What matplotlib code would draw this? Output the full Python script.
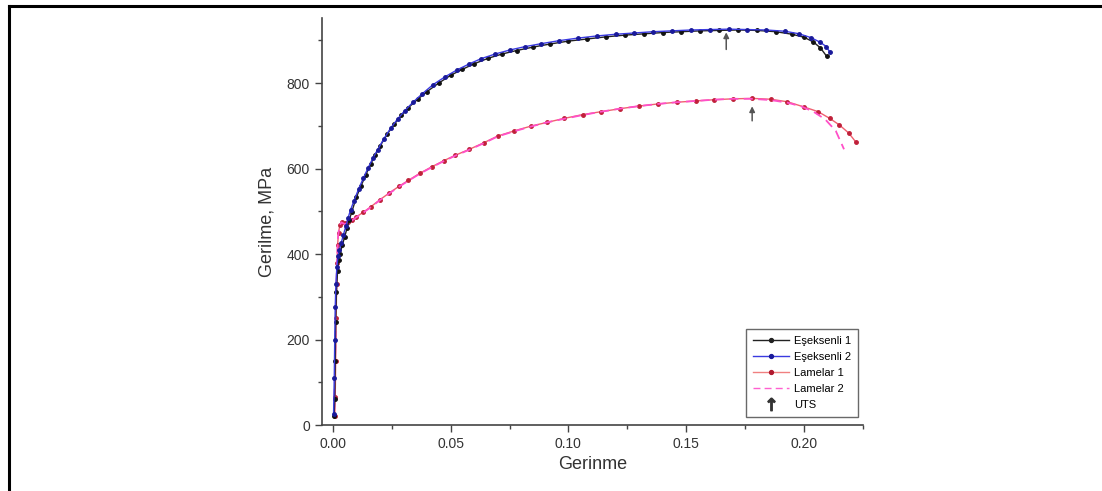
import matplotlib
matplotlib.use("Agg")
import matplotlib.pyplot as plt
from matplotlib.lines import Line2D
from matplotlib.ticker import MultipleLocator, FormatStrFormatter

plt.rcParams["font.family"] = ["Liberation Sans", "DejaVu Sans"]

# Eşeksenli 1 (black)
e1_strain = [0.0005, 0.0008, 0.001, 0.0012, 0.0015, 0.002, 0.0025, 0.003, 0.004, 0.005,
             0.006, 0.007, 0.008, 0.010, 0.012, 0.014, 0.016, 0.018, 0.020, 0.023,
             0.026, 0.029, 0.032, 0.036, 0.040, 0.045, 0.050, 0.055, 0.060, 0.066,
             0.072, 0.078, 0.085, 0.092, 0.100, 0.108, 0.116, 0.124, 0.132, 0.140,
             0.148, 0.156, 0.164, 0.172, 0.180, 0.188, 0.195, 0.200, 0.204, 0.207, 0.2097]
e1_stress = [20, 60, 150, 240, 310, 360, 385, 400, 420, 440,
             460, 480, 498, 533, 560, 585, 610, 632, 652, 680,
             703, 724, 742, 762, 780, 800, 818, 832, 845, 858,
             868, 876, 884, 891, 898, 903, 908, 912, 915, 918,
             920, 922, 923, 924, 923, 920, 914, 907, 896, 882, 862]

# Eşeksenli 2 (blue)
e2_strain = [0.0003, 0.0006, 0.0008, 0.001, 0.0013, 0.0017, 0.0022, 0.0028, 0.0035, 0.0045,
             0.0055, 0.0065, 0.0075, 0.009, 0.011, 0.013, 0.015, 0.017, 0.019, 0.0215,
             0.0245, 0.0275, 0.0305, 0.034, 0.038, 0.0425, 0.0475, 0.0525, 0.058, 0.063,
             0.069, 0.075, 0.0815, 0.0885, 0.096, 0.104, 0.112, 0.120, 0.128, 0.136,
             0.144, 0.152, 0.160, 0.168, 0.176, 0.184, 0.192, 0.198, 0.203, 0.207,
             0.2095, 0.211]
e2_stress = [25, 110, 200, 275, 330, 370, 395, 410, 425, 445,
             465, 485, 503, 525, 553, 578, 602, 624, 644, 668,
             694, 716, 735, 755, 775, 796, 814, 830, 845, 857,
             868, 877, 885, 892, 899, 905, 910, 914, 917, 920,
             922, 924, 925, 926, 925, 924, 921, 915, 906, 895,
             885, 872]

# Lamelar 1 (red)
l1_strain = [0.0008, 0.001, 0.0012, 0.0014, 0.0016, 0.0018, 0.002, 0.0024, 0.003, 0.0038,
             0.005, 0.0065, 0.008, 0.010, 0.013, 0.016, 0.020, 0.024, 0.028, 0.032,
             0.037, 0.042, 0.047, 0.052, 0.058, 0.064, 0.070, 0.077, 0.084, 0.091,
             0.098, 0.106, 0.114, 0.122, 0.130, 0.138, 0.146, 0.154, 0.162, 0.170,
             0.178, 0.186, 0.193, 0.200, 0.206, 0.211, 0.215, 0.219, 0.222]
l1_stress = [20, 65, 150, 250, 330, 380, 420, 450, 468, 476,
             472, 474, 480, 487, 498, 510, 527, 543, 558, 572,
             589, 604, 618, 631, 645, 660, 676, 688, 699, 708,
             717, 726, 733, 740, 746, 751, 755, 758, 761, 763,
             764, 762, 756, 744, 733, 717, 702, 683, 662]

# Lamelar 2 (magenta, dashed)
l2_strain = [0.0006, 0.0009, 0.0012, 0.0015, 0.0018, 0.0022, 0.0028, 0.0036, 0.005, 0.0065,
             0.008, 0.010, 0.013, 0.016, 0.020, 0.024, 0.028, 0.032, 0.037, 0.042,
             0.047, 0.052, 0.058, 0.064, 0.070, 0.077, 0.084, 0.091, 0.098, 0.106,
             0.114, 0.122, 0.130, 0.138, 0.146, 0.154, 0.162, 0.170, 0.178, 0.186,
             0.193, 0.199, 0.204, 0.209, 0.2135, 0.217]
l2_stress = [30, 120, 230, 320, 390, 440, 466, 474, 470, 472,
             478, 486, 497, 509, 526, 542, 557, 571, 588, 603,
             617, 630, 644, 659, 675, 687, 698, 708, 716, 725,
             733, 740, 746, 751, 755, 758, 761, 763, 763, 760,
             754, 745, 733, 715, 688, 645]

# UTS arrows: (strain, tail stress, tip stress)
uts_strain = [0.167, 0.178]
uts_tail = [872, 705]
uts_tip = [925, 752]

fig = plt.figure(figsize=(11.02, 4.91), dpi=100)
ax = fig.add_axes([0.292, 0.1344, 0.491, 0.8289])

ax.plot(l1_strain, l1_stress, color="#f06070", lw=1.0, marker="o", ms=2.5,
        mfc="#c0203a", mec="#c0203a", zorder=3)
ax.plot(l2_strain, l2_stress, color="#ff50c8", lw=1.3, ls=(0, (5, 3)), zorder=4)
ax.plot(e1_strain, e1_stress, color="#222222", lw=1.0, marker="o", ms=2.5,
        mfc="#111111", mec="#111111", zorder=4)
ax.plot(e2_strain, e2_stress, color="#3a3ae0", lw=1.0, marker="o", ms=2.5,
        mfc="#1a1a9a", mec="#1a1a9a", zorder=5)

for x, y0, y1 in zip(uts_strain, uts_tail, uts_tip):
    ax.annotate("", xy=(x, y1), xytext=(x, y0),
                arrowprops=dict(arrowstyle="-|>", color="#555555", lw=1.1,
                                mutation_scale=8))

ax.set_xlim(-0.0047, 0.225)
ax.set_ylim(0, 952)
ax.xaxis.set_major_locator(MultipleLocator(0.05))
ax.xaxis.set_minor_locator(MultipleLocator(0.025))
ax.xaxis.set_major_formatter(FormatStrFormatter("%.2f"))
ax.yaxis.set_major_locator(MultipleLocator(200))
ax.yaxis.set_minor_locator(MultipleLocator(100))

for s in ("top", "right"):
    ax.spines[s].set_visible(False)
for s in ("left", "bottom"):
    ax.spines[s].set_color("#444444")
    ax.spines[s].set_linewidth(1.2)
ax.tick_params(which="both", direction="out", color="#444444", width=1.0)
ax.tick_params(which="major", length=5, labelsize=10, labelcolor="#333333")
ax.tick_params(which="minor", length=3)

ax.set_xlabel("Gerinme", fontsize=13, color="#333333", labelpad=4)
ax.set_ylabel("Gerilme, MPa", fontsize=13, color="#333333", labelpad=8)

handles = [
    Line2D([], [], color="#222222", lw=1.0, marker="o", ms=2.8),
    Line2D([], [], color="#3a3ae0", lw=1.0, marker="o", ms=2.8, mfc="#1a1a9a", mec="#1a1a9a"),
    Line2D([], [], color="#f08080", lw=1.0, marker="o", ms=2.8, mfc="#b0182e", mec="#b0182e"),
    Line2D([], [], color="#ff5fd0", lw=1.0, ls=(0, (5, 3))),
    Line2D([], [], color="#333333", ls="none", marker=r"$\uparrow$", ms=9),
]
labels = ["Eşeksenli 1", "Eşeksenli 2", "Lamelar 1", "Lamelar 2", "UTS"]
leg = ax.legend(handles, labels, loc="lower right", bbox_to_anchor=(0.991, 0.02),
                borderaxespad=0, fontsize=8, fancybox=False, handlelength=3.2,
                labelspacing=0.55, borderpad=0.6, handletextpad=0.5)
leg.get_frame().set_edgecolor("#444444")
leg.get_frame().set_linewidth(1.0)

# outer frame lines (top and left)
fig.add_artist(Line2D([0.0082, 1.0], [0.988, 0.988], transform=fig.transFigure,
                      color="black", lw=2.2))
fig.add_artist(Line2D([0.0082, 0.0082], [0.0, 0.988], transform=fig.transFigure,
                      color="black", lw=2.2))

fig.savefig("out.png", dpi=100)
